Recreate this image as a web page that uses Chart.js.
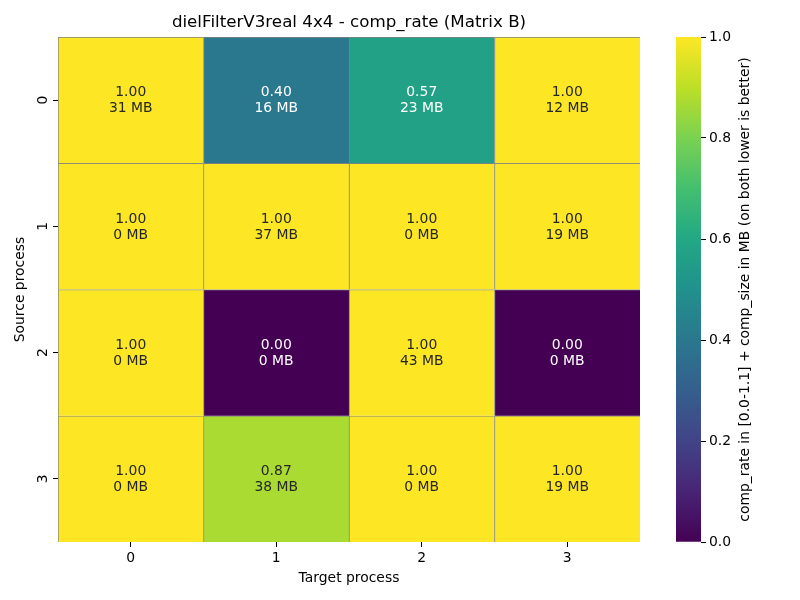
<!DOCTYPE html>
<html><head><meta charset="utf-8">
<script src="https://cdn.jsdelivr.net/npm/chart.js@4/dist/chart.umd.min.js"></script>
<style>
html,body{margin:0;padding:0;background:#fff;}
#wrap{position:relative;width:800px;height:600px;overflow:hidden;background:#fff;}
#heat{position:absolute;left:0;top:0;}
#cbar{position:absolute;left:660px;top:0;}
</style></head><body>
<div id="wrap">
<canvas id="heat" width="660" height="600"></canvas>
<canvas id="cbar" width="140" height="600"></canvas>
</div>
<script>
const chartTitle = 'dielFilterV3real 4x4 - comp_rate (Matrix B)';
const xTitle = 'Target process';
const yTitle = 'Source process';
const targetLabels = ['0', '1', '2', '3'];
const sourceLabels = ['0', '1', '2', '3'];
const compRate = [
  [1.00, 0.40, 0.57, 1.00],
  [1.00, 1.00, 1.00, 1.00],
  [1.00, 0.00, 1.00, 0.00],
  [1.00, 0.87, 1.00, 1.00]
];
const compSize = [
  [31, 16, 23, 12],
  [0, 37, 0, 19],
  [0, 0, 43, 0],
  [0, 38, 0, 19]
];
const colorbarTicks = [0.0, 0.2, 0.4, 0.6, 0.8, 1.0];
const colorbarLabel = 'comp_rate in [0.0-1.1] + comp_size in MB (on both lower is better)';
const vmin = 0, vmax = 1;

const F = '"DejaVu Sans", sans-serif';
const VIRIDIS = ['#440154','#482475','#414487','#355f8d','#2a788e','#21918c','#22a884','#44bf70','#7ad151','#bddf26','#fde725'];
function hexToRgb(h){return [parseInt(h.slice(1,3),16),parseInt(h.slice(3,5),16),parseInt(h.slice(5,7),16)];}
function viridis(v){
  let t = (v - vmin) / (vmax - vmin); t = Math.max(0, Math.min(1, t));
  const p = t * 10; const i = Math.min(9, Math.floor(p)); const f = p - i;
  const a = hexToRgb(VIRIDIS[i]), b = hexToRgb(VIRIDIS[i+1]);
  return a.map((c,k)=>Math.round(c + (b[k]-c)*f));
}
function rgbStr(c){return 'rgb('+c[0]+','+c[1]+','+c[2]+')';}
function lum(c){
  const l = c.map(x=>{x/=255; return x<=0.03928 ? x/12.92 : Math.pow((x+0.055)/1.055,2.4);});
  return 0.2126*l[0]+0.7152*l[1]+0.0722*l[2];
}

const datasets = sourceLabels.map((s, r) => ({
  label: 'Source ' + s,
  data: targetLabels.map(() => [r, r + 1]),
  backgroundColor: compRate[r].map(v => rgbStr(viridis(v))),
  borderColor: '#808080',
  borderWidth: { left: 1, top: 1, right: 0, bottom: 0 },
  borderSkipped: false,
  grouped: false,
  barPercentage: 1,
  categoryPercentage: 1
}));

const annot = {
  id: 'annot',
  afterDatasetsDraw(chart) {
    const ctx = chart.ctx;
    ctx.save();
    ctx.font = '13.9px ' + F;
    ctx.textAlign = 'center';
    ctx.textBaseline = 'middle';
    chart.data.datasets.forEach((ds, r) => {
      const meta = chart.getDatasetMeta(r);
      meta.data.forEach((el, c) => {
        const cy = (el.y + el.base) / 2;
        const v = compRate[r][c];
        ctx.fillStyle = lum(viridis(v)) < 0.408 ? '#ffffff' : '#262626';
        ctx.fillText(v.toFixed(2), el.x, cy - 7.5);
        ctx.fillText(compSize[r][c] + ' MB', el.x, cy + 8.5);
      });
    });
    ctx.restore();
  }
};

new Chart(document.getElementById('heat'), {
  type: 'bar',
  data: { labels: targetLabels, datasets },
  options: {
    responsive: false,
    animation: false,
    devicePixelRatio: 1,
    layout: { padding: { left: 0, right: 20, top: 0, bottom: 0 } },
    plugins: {
      legend: { display: false },
      tooltip: { enabled: false },
      title: {
        display: true, text: chartTitle, fullSize: false, color: '#000',
        font: { family: F, size: 16.7, weight: 'normal', lineHeight: 1.2 },
        padding: { top: 13, bottom: 4 }
      }
    },
    scales: {
      x: {
        type: 'category', offset: true,
        grid: { display: true, offset: false, drawOnChartArea: false, drawTicks: true, tickLength: 5, color: '#000' },
        border: { display: false },
        ticks: { color: '#000', font: { family: F, size: 13.9 }, padding: 3, maxRotation: 0 },
        title: { display: true, text: xTitle, color: '#000', font: { family: F, size: 13.9 }, padding: { top: 0, bottom: 13 } },
        afterFit(s) { s.height = 58; }
      },
      y: {
        type: 'linear', min: 0, max: sourceLabels.length, reverse: true,
        afterBuildTicks(s) { s.ticks = sourceLabels.map((l, i) => ({ value: i + 0.5 })); },
        grid: { display: true, drawOnChartArea: false, drawTicks: true, tickLength: 5, color: '#000' },
        border: { display: false },
        ticks: { callback: (v, i) => sourceLabels[i], color: '#000', font: { family: F, size: 13.9 }, padding: 5, minRotation: 90, maxRotation: 90, crossAlign: 'center' },
        title: { display: true, text: yTitle, color: '#000', font: { family: F, size: 13.9 }, padding: { top: 12, bottom: 0 } },
        afterFit(s) { s.width = 58; }
      }
    }
  },
  plugins: [annot]
});

const cbTitle = {
  id: 'cbTitle',
  afterDraw(chart) {
    const ca = chart.chartArea, ctx = chart.ctx;
    ctx.save();
    ctx.translate(85, (ca.top + ca.bottom) / 2);
    ctx.rotate(-Math.PI / 2);
    ctx.font = '13.9px ' + F;
    ctx.fillStyle = '#000';
    ctx.textAlign = 'center';
    ctx.textBaseline = 'middle';
    ctx.fillText(colorbarLabel, 0, 0);
    ctx.restore();
  }
};

new Chart(document.getElementById('cbar'), {
  type: 'bar',
  data: {
    labels: ['colorbar'],
    datasets: [{
      data: [[vmin, vmax]],
      backgroundColor: (c) => {
        const ca = c.chart.chartArea;
        if (!ca) return VIRIDIS[10];
        const g = c.chart.ctx.createLinearGradient(0, ca.bottom, 0, ca.top);
        VIRIDIS.forEach((h, i) => g.addColorStop(i / 10, h));
        return g;
      },
      borderWidth: 0, barPercentage: 1, categoryPercentage: 1
    }]
  },
  options: {
    responsive: false, animation: false, devicePixelRatio: 1,
    layout: { padding: { left: 16, top: 37, bottom: 58, right: 0 } },
    plugins: { legend: { display: false }, tooltip: { enabled: false } },
    scales: {
      x: { display: false },
      y: {
        position: 'right', min: vmin, max: vmax,
        afterBuildTicks(s) { s.ticks = colorbarTicks.map(v => ({ value: v })); },
        ticks: { callback: v => Number(v).toFixed(1), color: '#000', font: { family: F, size: 13.9 }, padding: 3 },
        grid: { display: true, drawOnChartArea: false, drawTicks: true, tickLength: 5, color: '#000' },
        border: { display: false },
        afterFit(s) { s.width = 99; }
      }
    }
  },
  plugins: [cbTitle]
});
</script>
</body></html>
